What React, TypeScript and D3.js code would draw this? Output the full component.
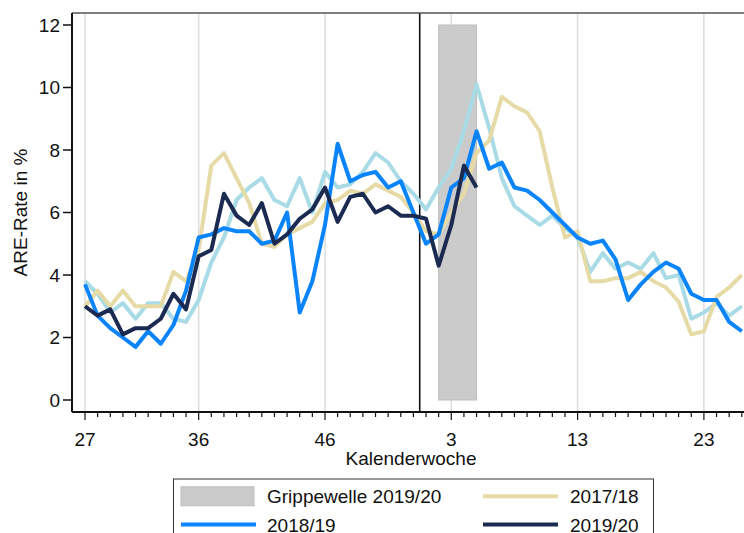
import React from "react";
import * as d3 from "d3";

// calendar weeks 27..53, then 1..26
const weeks: number[] = [
  27, 28, 29, 30, 31, 32, 33, 34, 35, 36, 37, 38, 39, 40, 41, 42, 43, 44, 45, 46,
  47, 48, 49, 50, 51, 52, 53, 1, 2, 3, 4, 5, 6, 7, 8, 9, 10, 11, 12, 13, 14, 15,
  16, 17, 18, 19, 20, 21, 22, 23, 24, 25, 26,
];
const majorWeeks = [27, 36, 46, 3, 13, 23];
const yTicks = [0, 2, 4, 6, 8, 10, 12];

const season1617 = [
  3.8, 3.4, 2.8, 3.1, 2.6, 3.1, 3.1, 2.6, 2.5, 3.2, 4.4, 5.2, 6.4, 6.8, 7.1, 6.4,
  6.2, 7.1, 6.0, 7.3, 6.8, 6.9, 7.3, 7.9, 7.6, 7.0, 6.6, 6.1, 6.8, 7.4, 8.6, 10.1,
  8.7, 7.1, 6.2, 5.9, 5.6, 5.9, 5.5, 5.2, 4.1, 4.7, 4.2, 4.4, 4.2, 4.7, 3.9, 4.0,
  2.6, 2.8, 3.1, 2.7, 3.0,
];
const season1718 = [
  3.0, 3.5, 3.0, 3.5, 3.0, 3.0, 3.0, 4.1, 3.8, 4.8, 7.5, 7.9, 7.1, 6.3, 5.0, 4.9,
  5.3, 5.5, 5.7, 6.3, 6.4, 6.7, 6.6, 6.9, 6.7, 6.5, 6.0, 5.4, 5.3, 6.0, 6.6, 7.9,
  8.3, 9.7, 9.4, 9.2, 8.6, 6.8, 5.2, 5.4, 3.8, 3.8, 3.9, 3.9, 4.1, 3.8, 3.6, 3.15,
  2.1, 2.2, 3.3, 3.6, 4.0,
];
const season1819 = [
  3.7, 2.7, 2.3, 2.0, 1.7, 2.2, 1.8, 2.4, 3.5, 5.2, 5.3, 5.5, 5.4, 5.4, 5.0, 5.1,
  6.0, 2.8, 3.8, 5.6, 8.2, 7.0, 7.2, 7.3, 6.8, 7.0, 6.0, 5.0, 5.3, 6.8, 7.1, 8.6,
  7.4, 7.6, 6.8, 6.7, 6.4, 6.0, 5.6, 5.2, 5.0, 5.1, 4.5, 3.2, 3.7, 4.1, 4.4, 4.2,
  3.4, 3.2, 3.2, 2.5, 2.2,
];
const season1920 = [
  3.0, 2.7, 2.9, 2.1, 2.3, 2.3, 2.6, 3.4, 2.9, 4.6, 4.8, 6.6, 5.9, 5.6, 6.3, 5.0,
  5.3, 5.8, 6.1, 6.8, 5.7, 6.5, 6.6, 6.0, 6.2, 5.9, 5.9, 5.8, 4.3, 5.6, 7.5, 6.8,
];

// flu wave 2019/20: weeks 2..5, year change between week 53 and week 1
const fluStart = 2;
const fluEnd = 5;

const series = [
  { name: "2016/17", values: season1617, color: "#a9dbe7" },
  { name: "2017/18", values: season1718, color: "#e6dba6" },
  { name: "2018/19", values: season1819, color: "#0a84fa" },
  { name: "2019/20", values: season1920, color: "#1b2a50" },
];

const font = "'Liberation Sans', Arial, sans-serif";

export default function App() {
  const left = 72;
  const top = 13;
  const bottom = 412;
  const right = 760;

  const x = d3.scaleLinear().domain([0, weeks.length - 1]).range([85, 741.8]);
  const y = d3.scaleLinear().domain([0, 12]).range([400, 25]);

  const line = d3
    .line<number>()
    .x((_, i) => x(i))
    .y((d) => y(d));

  const yearBreak = x(weeks.indexOf(53) + 0.5);
  const bandX0 = x(weeks.lastIndexOf(fluStart));
  const bandX1 = x(weeks.lastIndexOf(fluEnd));

  // only the two rows visible in the picture
  const legendRows = [
    [
      { kind: "rect", label: "Grippewelle 2019/20", color: "#cbcbcb" },
      { kind: "line", label: "2017/18", color: series[1].color },
    ],
    [
      { kind: "line", label: "2018/19", color: series[2].color },
      { kind: "line", label: "2019/20", color: series[3].color },
    ],
  ];

  return (
    <svg
      width={744}
      height={533}
      style={{ position: "absolute", left: 0, top: 0, display: "block" }}
      fontFamily={font}
    >
      <rect width={744} height={533} fill="#fff" />

      {/* vertical grid at labelled weeks */}
      {majorWeeks.map((w) => (
        <line
          key={"g" + w}
          x1={x(weeks.indexOf(w))}
          x2={x(weeks.indexOf(w))}
          y1={top}
          y2={bottom}
          stroke="#dcdcdc"
          strokeWidth={1.5}
        />
      ))}

      {/* flu wave band */}
      <rect
        x={bandX0}
        y={y(12)}
        width={bandX1 - bandX0}
        height={y(0) - y(12)}
        fill="#cbcbcb"
        stroke="#bdbdbd"
        strokeWidth={1}
      />

      {/* year change */}
      <line x1={yearBreak} x2={yearBreak} y1={top} y2={bottom} stroke="#111" strokeWidth={1.6} />

      {/* frame top */}
      <line x1={left} x2={right} y1={top} y2={top} stroke="#555" strokeWidth={1.5} />

      {series.map((s) => (
        <path
          key={s.name}
          d={line(s.values) || ""}
          fill="none"
          stroke={s.color}
          strokeWidth={4}
          strokeLinejoin="round"
        />
      ))}

      {/* y axis */}
      <line x1={left} x2={left} y1={top} y2={bottom} stroke="#111" strokeWidth={2} />
      {yTicks.map((t) => (
        <g key={"y" + t}>
          <line x1={left - 9} x2={left} y1={y(t)} y2={y(t)} stroke="#111" strokeWidth={1.5} />
          <text x={left - 12} y={y(t)} dy="0.36em" textAnchor="end" fontSize={19} fill="#111">
            {t}
          </text>
        </g>
      ))}
      <text
        transform={`translate(27,${(top + bottom) / 2}) rotate(-90)`}
        textAnchor="middle"
        fontSize={19}
        fill="#111"
      >
        ARE-Rate in %
      </text>

      {/* x axis */}
      <line x1={left} x2={right} y1={bottom} y2={bottom} stroke="#111" strokeWidth={2} />
      {weeks.map((w, i) => {
        const major = majorWeeks.includes(w) && weeks.indexOf(w) === i;
        return (
          <line
            key={"x" + i}
            x1={x(i)}
            x2={x(i)}
            y1={bottom}
            y2={bottom + (major ? 8 : 5)}
            stroke="#111"
            strokeWidth={1.2}
          />
        );
      })}
      {majorWeeks.map((w) => (
        <text
          key={"xl" + w}
          x={x(weeks.indexOf(w))}
          y={446}
          textAnchor="middle"
          fontSize={19}
          fill="#111"
        >
          {w}
        </text>
      ))}
      <text x={(left + 744) / 2 + 3} y={465} textAnchor="middle" fontSize={19} fill="#111">
        Kalenderwoche
      </text>

      {/* legend */}
      <rect x={173.5} y={479} width={480} height={120} fill="#fff" stroke="#333" strokeWidth={1} />
      {legendRows.map((row, r) =>
        row.map((item, c) => {
          const cy = 496.3 + r * 28.3;
          const x0 = c === 0 ? 181 : 483;
          return (
            <g key={item.label}>
              {item.kind === "rect" ? (
                <rect x={x0} y={cy - 9.5} width={73} height={19} fill={item.color} stroke="#bdbdbd" />
              ) : (
                <line x1={x0} x2={x0 + 75} y1={cy} y2={cy} stroke={item.color} strokeWidth={4} />
              )}
              <text x={c === 0 ? 267 : 570} y={cy + 7} fontSize={19} fill="#111">
                {item.label}
              </text>
            </g>
          );
        })
      )}
    </svg>
  );
}
